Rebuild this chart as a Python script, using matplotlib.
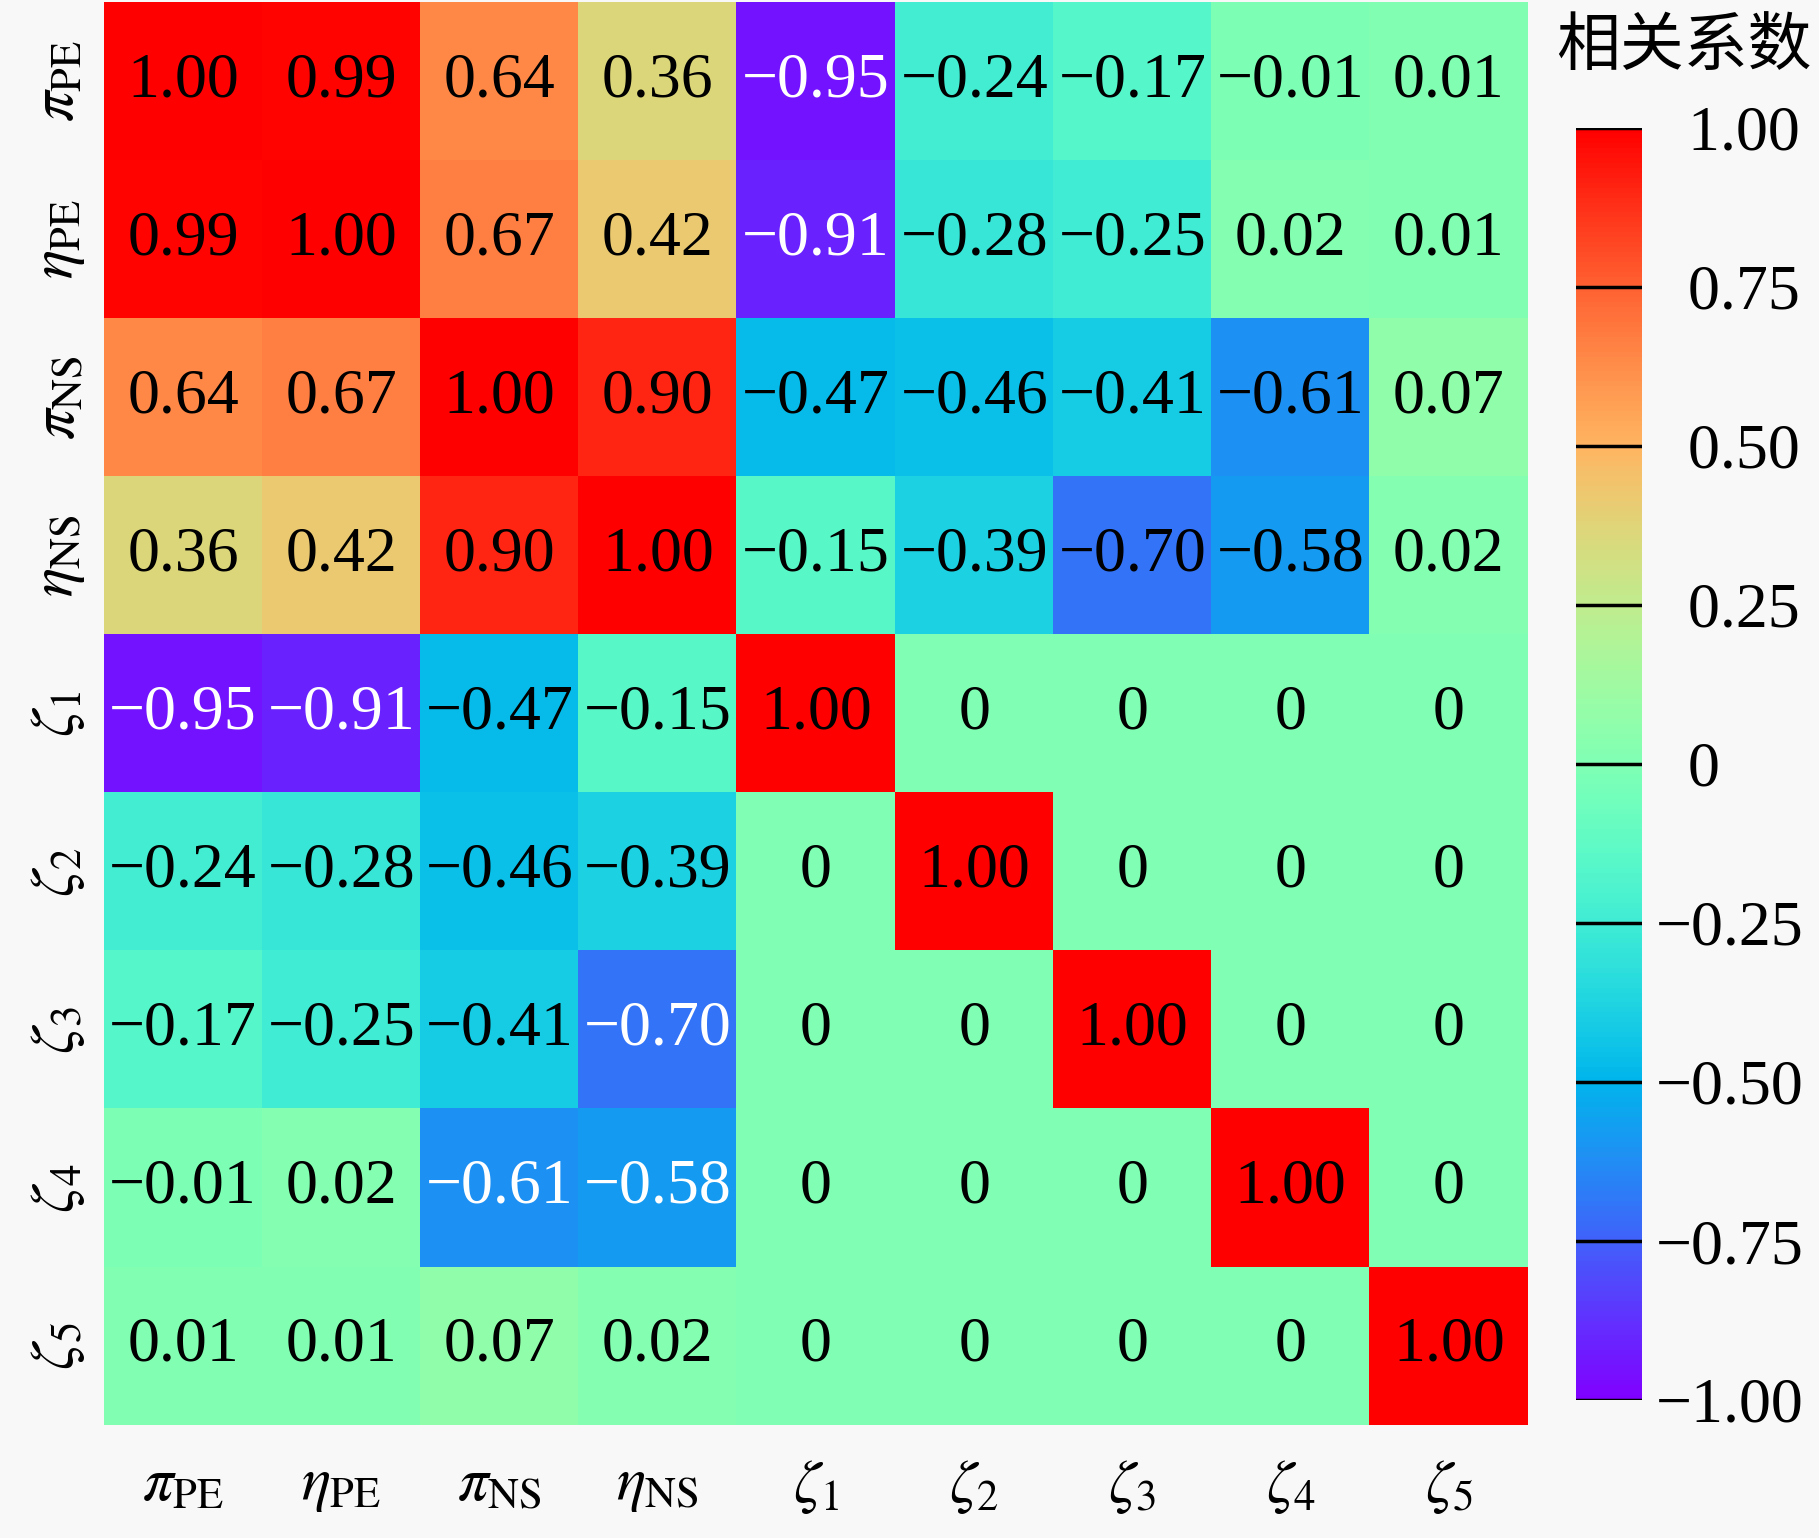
import numpy as np
import matplotlib
matplotlib.use("Agg")
import matplotlib.pyplot as plt

plt.rcParams['font.family'] = ['Liberation Serif', 'DejaVu Serif']
plt.rcParams['mathtext.fontset'] = 'stix'

# ---------------- data ----------------
labels = [r'$\pi_{\mathrm{PE}}$', r'$\eta_{\mathrm{PE}}$', r'$\pi_{\mathrm{NS}}$', r'$\eta_{\mathrm{NS}}$',
          r'$\zeta_1$', r'$\zeta_2$', r'$\zeta_3$', r'$\zeta_4$', r'$\zeta_5$']

row_pi_pe  = [1.00, 0.99, 0.64, 0.36, -0.95, -0.24, -0.17, -0.01, 0.01]
row_eta_pe = [0.99, 1.00, 0.67, 0.42, -0.91, -0.28, -0.25, 0.02, 0.01]
row_pi_ns  = [0.64, 0.67, 1.00, 0.90, -0.47, -0.46, -0.41, -0.61, 0.07]
row_eta_ns = [0.36, 0.42, 0.90, 1.00, -0.15, -0.39, -0.70, -0.58, 0.02]
row_z1 = [-0.95, -0.91, -0.47, -0.15, 1.00, 0, 0, 0, 0]
row_z2 = [-0.24, -0.28, -0.46, -0.39, 0, 1.00, 0, 0, 0]
row_z3 = [-0.17, -0.25, -0.41, -0.70, 0, 0, 1.00, 0, 0]
row_z4 = [-0.01, 0.02, -0.61, -0.58, 0, 0, 0, 1.00, 0]
row_z5 = [0.01, 0.01, 0.07, 0.02, 0, 0, 0, 0, 1.00]

corr = np.array([row_pi_pe, row_eta_pe, row_pi_ns, row_eta_ns,
                 row_z1, row_z2, row_z3, row_z4, row_z5])

# cells whose number is written in white
white_cells = [(0, 4), (1, 4), (4, 0), (4, 1), (6, 3), (7, 2), (7, 3)]

cbar_ticks = [1.00, 0.75, 0.50, 0.25, 0, -0.25, -0.50, -0.75, -1.00]

def fmt(v):
    if v == 0:
        return '0'
    s = '%.2f' % abs(v)
    return ('\u2212' + s) if v < 0 else s

# ---------------- plot ----------------
W, H = 1819, 1538
fig = plt.figure(figsize=(W / 100, H / 100), dpi=100, facecolor='#f8f8f8')

ax = fig.add_axes([104 / W, 1 - 1425 / H, 1424 / W, 1423 / H])
im = ax.imshow(corr, cmap='rainbow', vmin=-1, vmax=1, aspect='auto', interpolation='nearest')

n = len(labels)
for i in range(n):
    for j in range(n):
        c = 'white' if (i, j) in white_cells else 'black'
        ax.text(j, i, fmt(corr[i, j]), ha='center', va='center', fontsize=46, color=c)

ax.set_xticks(range(n))
ax.set_yticks(range(n))
ax.set_xticklabels(labels, fontsize=44)
ax.set_yticklabels(labels, fontsize=44, rotation=90, va='center')
ax.tick_params(axis='both', length=0)
ax.tick_params(axis='x', pad=24)
ax.tick_params(axis='y', pad=12)
for s in ax.spines.values():
    s.set_visible(False)

cax = fig.add_axes([1576 / W, 1 - 1400 / H, 66 / W, 1272 / H])
cb = fig.colorbar(im, cax=cax, ticks=cbar_ticks)
cb.outline.set_visible(False)
cb.ax.set_yticklabels([fmt(t) if t < 0 else '\u2007' + fmt(t) for t in cbar_ticks], fontsize=46)
cb.ax.tick_params(length=0, pad=10)
for t in cbar_ticks:
    cb.ax.axhline(t, color='black', lw=2.5)

fig.text(1684 / W, 1 - 47 / H, '相关系数', ha='center', va='center', fontsize=46,
         family=['Noto Sans CJK SC', 'DejaVu Sans'])

fig.savefig('out.png', dpi=100, facecolor=fig.get_facecolor())
